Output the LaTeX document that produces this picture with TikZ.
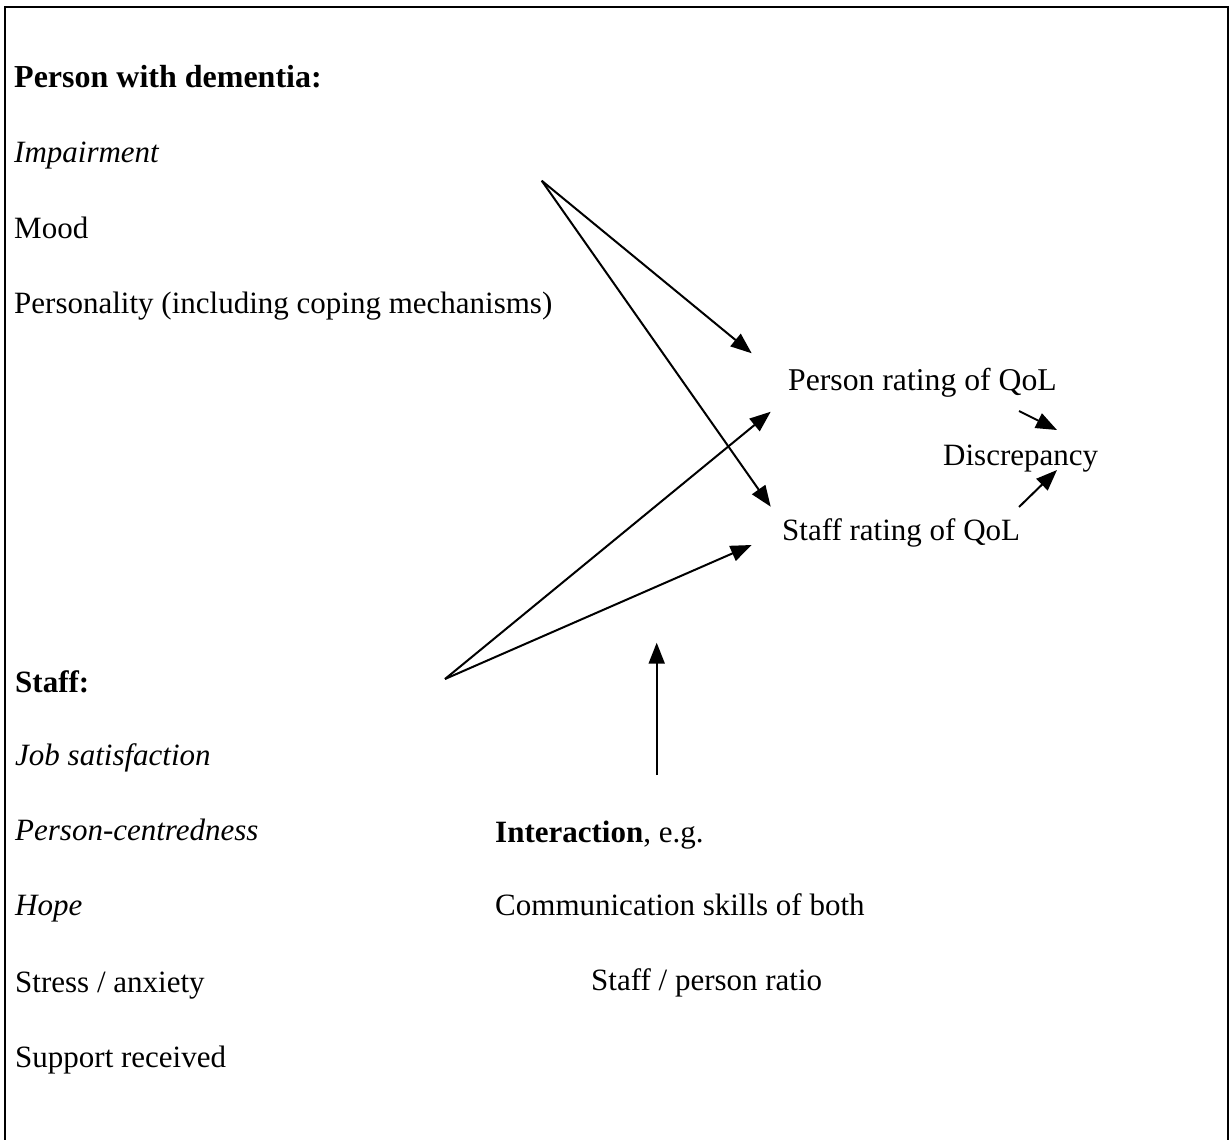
\documentclass[tikz,border=0pt]{standalone}
\usepackage{fontspec}
\setmainfont{Liberation Serif}
\usetikzlibrary{arrows.meta}
\tikzset{
  txt/.style={anchor=base west, inner sep=0pt, font=\fontsize{31}{37}\selectfont},
  conn/.style={line width=2pt, -{Triangle[length=21pt,width=16pt]}},
  frame/.style={line width=2.2pt}
}
\begin{document}
\begin{tikzpicture}[x=1pt,y=-1pt]
\useasboundingbox (0,0) rectangle (1231,1140);
\draw[frame] (5,1140) -- (5,7) -- (1228,7) -- (1228,1140);
% left: person with dementia
\node[txt, font=\fontsize{32}{38}\selectfont] (pwd) at (14,87) {\textbf{Person with dementia:}};
\node[txt] (imp) at (14,162) {\textit{Impairment}};
\node[txt] (mood) at (14,238) {Mood};
\node[txt] (pers) at (14,313) {Personality (including coping mechanisms)};
% outcomes
\node[txt, font=\fontsize{31.7}{37}\selectfont] (prat) at (788,390) {Person rating of QoL};
\node[txt] (disc) at (943,465) {Discrepancy};
\node[txt] (srat) at (782,540) {Staff rating of QoL};
% staff
\node[txt] (staff) at (15,692) {\textbf{Staff:}};
\node[txt] (job) at (15,765) {\textit{Job satisfaction}};
\node[txt] (pcen) at (15,840) {\textit{Person-centredness}};
\node[txt] (hope) at (15,915) {\textit{Hope}};
\node[txt] (stress) at (15,992) {Stress / anxiety};
\node[txt] (supp) at (15,1067) {Support received};
% interaction
\node[txt] (inter) at (495,842) {\textbf{Interaction}, e.g.};
\node[txt] (comm) at (495,915) {Communication skills of both};
\node[txt] (ratio) at (591,990) {Staff / person ratio};
% connector points
\coordinate (pwdFrom) at (541.7,180.7);
\coordinate (staffFrom) at (445,679);
\coordinate (interFrom) at (656.7,775);
\coordinate (pratIn1) at (751.7,353.3);
\coordinate (pratIn2) at (770.7,411.7);
\coordinate (sratIn1) at (770.7,506.7);
\coordinate (sratIn2) at (751.7,545);
\coordinate (interTo) at (656.7,642.7);
\coordinate (pratOut) at (1019,411);
\coordinate (sratOut) at (1019,507);
\coordinate (discIn1) at (1057,430);
\coordinate (discIn2) at (1057,470);
\draw[conn] (pwdFrom) -- (pratIn1);
\draw[conn] (pwdFrom) -- (sratIn1);
\draw[conn] (staffFrom) -- (pratIn2);
\draw[conn] (staffFrom) -- (sratIn2);
\draw[conn] (interFrom) -- (interTo);
\draw[conn] (pratOut) -- (discIn1);
\draw[conn] (sratOut) -- (discIn2);
\end{tikzpicture}
\end{document}
